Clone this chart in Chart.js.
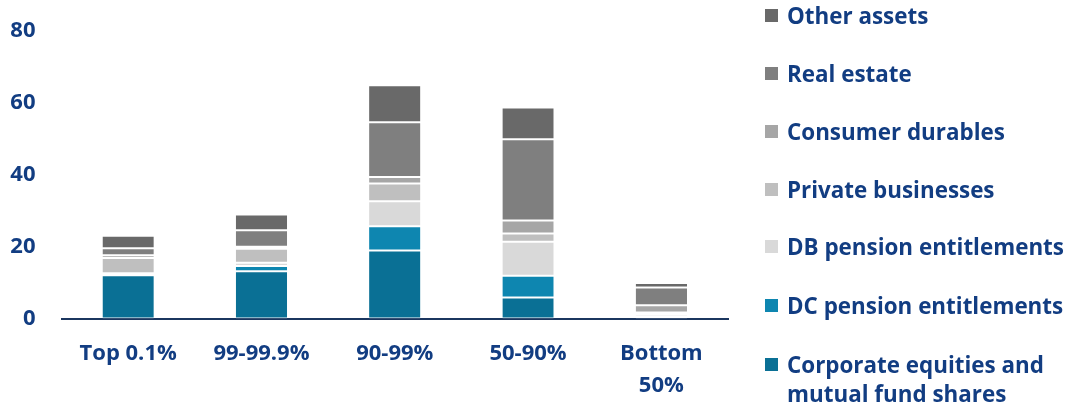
<!DOCTYPE html>
<html>
<head>
<meta charset="utf-8">
<script src="https://cdn.jsdelivr.net/npm/chart.js@4"></script>
<style>
  html, body { margin: 0; padding: 0; background: #fff; }
  #wrap { position: relative; width: 1072px; height: 410px; }
  #legend { position: absolute; left: 765px; top: 0; font-family: "Open Sans", sans-serif; font-weight: 700; font-size: 22.4px; color: #123d82; }
  .item { position: absolute; left: 0; white-space: nowrap; line-height: 29px; }
  .box { position: absolute; left: 0; width: 13px; height: 13px; }
  .txt { position: absolute; left: 22px; }
</style>
</head>
<body>
<div id="wrap">
  <canvas id="chart" width="1072" height="410"></canvas>
  <div id="legend"></div>
</div>
<script>
const textColor = '#123d82';
const axisColor = '#1b365f';

const categories = ['Top 0.1%', '99-99.9%', '90-99%', '50-90%', ['Bottom', '50%']];

const corporateEquities = [12.0, 13.1, 18.9, 5.8, 0.2];
const dcPension = [0.3, 1.5, 6.7, 6.1, 0.3];
const dbPension = [0.3, 0.9, 7.0, 9.4, 0.6];
const privateBusinesses = [4.2, 3.9, 4.9, 2.3, 0.6];
const consumerDurables = [0.8, 0.5, 1.8, 3.6, 2.0];
const realEstate = [1.9, 4.6, 15.2, 22.6, 4.9];
const otherAssets = [3.5, 4.4, 10.3, 8.8, 1.25];

const yTicks = [0, 20, 40, 60, 80];

// bottom to top
const series = [
    { label: ['Corporate equities and', 'mutual fund shares'], data: corporateEquities, color: '#0a7095' },
    { label: ['DC pension entitlements'], data: dcPension, color: '#0e86b0' },
    { label: ['DB pension entitlements'], data: dbPension, color: '#d9d9d9' },
    { label: ['Private businesses'], data: privateBusinesses, color: '#bfbfbf' },
    { label: ['Consumer durables'], data: consumerDurables, color: '#a6a6a6' },
    { label: ['Real estate'], data: realEstate, color: '#7f7f7f' },
    { label: ['Other assets'], data: otherAssets, color: '#696969' }
];

const legendRows = [15, 73, 131, 189, 246, 305, 364];

const ctx = document.getElementById('chart').getContext('2d');

const chart = new Chart(ctx, {
    type: 'bar',
    data: {
        labels: categories,
        datasets: series.map(s => ({
            label: s.label.join(' '),
            data: s.data,
            backgroundColor: s.color,
            borderColor: '#ffffff',
            borderWidth: { top: 1, bottom: 1, left: 0, right: 0 },
            borderSkipped: false,
            barPercentage: 0.77,
            categoryPercentage: 0.5
        }))
    },
    options: {
        responsive: false,
        animation: false,
        layout: { padding: { top: 30.5, right: 344, left: 0, bottom: 0 } },
        plugins: {
            legend: { display: false },
            tooltip: { enabled: false }
        },
        scales: {
            x: {
                stacked: true,
                grid: { display: false, drawTicks: false },
                border: { display: true, color: axisColor, width: 2 },
                ticks: {
                    color: textColor,
                    padding: 19,
                    maxRotation: 0,
                    font: { family: 'Open Sans', weight: '700', size: 22, lineHeight: 1.45 }
                },
                afterFit: s => { s.height = 91.5; }
            },
            y: {
                stacked: true,
                min: 0,
                max: 80,
                grid: { display: false, drawTicks: false },
                border: { display: false },
                afterBuildTicks: s => { s.ticks = yTicks.map(v => ({ value: v })); },
                ticks: {
                    color: textColor,
                    padding: 26,
                    font: { family: 'Open Sans', weight: '700', size: 22 }
                },
                afterFit: s => { s.width = 61.5; s.paddingTop = 0; s.paddingBottom = 0; }
            }
        }
    }
});

// html legend, top to bottom
const legend = document.getElementById('legend');
series.slice().reverse().forEach((s, i) => {
    const item = document.createElement('div');
    item.className = 'item';
    item.style.top = (legendRows[i] - 14.5) + 'px';
    const box = document.createElement('div');
    box.className = 'box';
    box.style.background = s.color;
    box.style.top = '8px';
    const txt = document.createElement('div');
    txt.className = 'txt';
    txt.innerHTML = s.label.join('<br>');
    item.appendChild(box);
    item.appendChild(txt);
    legend.appendChild(item);
});
</script>
</body>
</html>
